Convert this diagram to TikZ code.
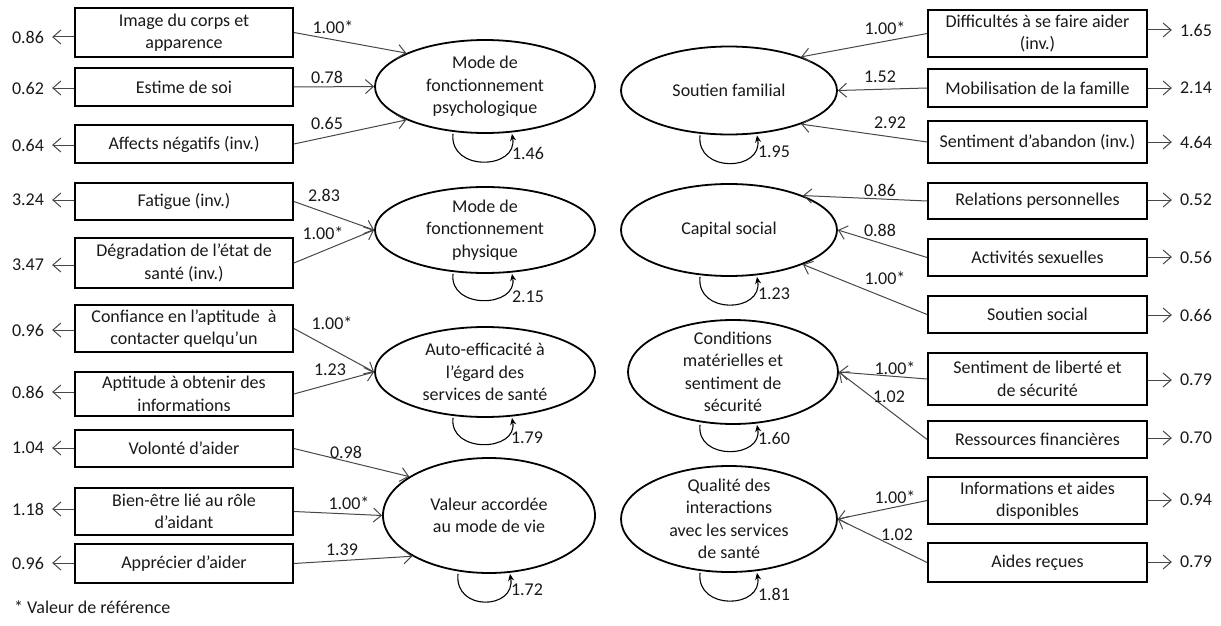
\documentclass[tikz,border=0pt]{standalone}
\usepackage{fontspec}
\setmainfont{Carlito}
\usetikzlibrary{shapes.geometric,arrows.meta,calc}
\begin{document}
\begin{tikzpicture}[x=1pt,y=-1pt,
  font=\fontsize{18}{22.5}\selectfont,
  obs/.style={draw=black,line width=1.8pt,minimum width=218pt,inner sep=1pt,align=center,text=black!90},
  lat/.style={draw=black,line width=1.8pt,ellipse,inner sep=0pt},
  lattxt/.style={align=center,text=black!90,inner sep=0pt},
  load/.style={draw=black!72,line width=1pt,-{Straight Barb[length=8pt,width=14pt]}},
  vararr/.style={draw=black!72,line width=1pt,-{Straight Barb[length=8pt,width=14pt]}},
  var/.style={text=black!90,inner xsep=8pt,inner ysep=1pt},
  num/.style={text=black!90,inner sep=0pt},
  selfl/.style={draw=black,line width=1.1pt,-{Stealth[length=7pt,width=6pt]}}
]
\useasboundingbox (0,0) rectangle (1221,626);

% ---------- left observed boxes ----------
\node[obs,minimum height=49pt] (L1) at (184,32.5) {Image du corps et\\apparence};
\node[obs,minimum height=38pt] (L2) at (184,87) {Estime de soi};
\node[obs,minimum height=38pt] (L3) at (184,144) {Affects négatifs (inv.)};
\node[obs,minimum height=37pt] (L4) at (184,201.5) {Fatigue (inv.)};
\node[obs,minimum height=50pt] (L5) at (184,263) {Dégradation de l’état de\\santé (inv.)};
\node[obs,minimum height=47pt] (L6) at (184,328.5) {Confiance en l’aptitude \ à\\contacter quelqu’un};
\node[obs,minimum height=44pt] (L7) at (184,394) {Aptitude à obtenir des\\informations};
\node[obs,minimum height=37pt] (L8) at (184,448.5) {Volonté d’aider};
\node[obs,minimum height=47pt] (L9) at (184,511.5) {Bien-être lié au rôle\\d’aidant};
\node[obs,minimum height=39pt] (L10) at (184,563.5) {Apprécier d’aider};

% ---------- right observed boxes ----------
\node[obs,minimum width=219pt,minimum height=47pt] (R1) at (1037.5,33.5) {Difficultés à se faire aider\\(inv.)};
\node[obs,minimum width=219pt,minimum height=38pt] (R2) at (1037.5,88) {Mobilisation de la famille};
\node[obs,minimum width=219pt,minimum height=42pt] (R3) at (1037.5,142) {Sentiment d’abandon (inv.)};
\node[obs,minimum width=219pt,minimum height=36pt] (R4) at (1037.5,201) {Relations personnelles};
\node[obs,minimum width=219pt,minimum height=37pt] (R5) at (1037.5,257.5) {Activités sexuelles};
\node[obs,minimum width=219pt,minimum height=37pt] (R6) at (1037.5,314.5) {Soutien social};
\node[obs,minimum width=219pt,minimum height=52pt] (R7) at (1037.5,379) {Sentiment de liberté et\\de sécurité};
\node[obs,minimum width=219pt,minimum height=37pt] (R8) at (1037.5,439.5) {Ressources financières};
\node[obs,minimum width=219pt,minimum height=47pt] (R9) at (1037.5,500.5) {Informations et aides\\disponibles};
\node[obs,minimum width=219pt,minimum height=39pt] (R10) at (1037.5,562.5) {Aides reçues};

% ---------- latent ellipses ----------
\node[lat,minimum width=220pt,minimum height=93pt,label={[lattxt]center:Mode de\\fonctionnement\\psychologique}] (E1) at (485,86.5) {};
\node[lat,minimum width=220pt,minimum height=86pt,label={[lattxt]center:Mode de\\fonctionnement\\physique}] (E2) at (485,230) {};
\node[lat,minimum width=220pt,minimum height=90pt,label={[lattxt]center:Auto-efficacité à\\l’égard des\\services de santé}] (E3) at (485,372) {};
\node[lat,minimum width=212pt,minimum height=115pt,label={[lattxt]center:Valeur accordée\\au mode de vie}] (E4) at (489,515.5) {};
\node[lat,minimum width=216pt,minimum height=88pt,label={[lattxt]center:Soutien familial}] (E5) at (729,90.5) {};
\node[lat,minimum width=216pt,minimum height=92pt,label={[lattxt]center:Capital social}] (E6) at (729,230) {};
\node[lat,minimum width=210pt,minimum height=104pt,label={[lattxt]center:Conditions\\matérielles et\\sentiment de\\sécurité}] (E7) at (733,372) {};
\node[lat,minimum width=216pt,minimum height=106pt,label={[lattxt]center:Qualité des\\interactions\\avec les services\\de santé}] (E8) at (729,519) {};

% ---------- loadings left ----------
\draw[load] (L1.east) -- (E1.157);
\draw[load] (L2.east) -- (E1.west);
\draw[load] (L3.east) -- (E1.203);
\draw[load] (L4.east) -- (E2.west);
\draw[load] (L5.east) -- (E2.west);
\draw[load] (L6.east) -- (E3.west);
\draw[load] (L7.east) -- (E3.west);
\draw[load] (L8.east) -- (E4.154);
\draw[load] (L9.east) -- (E4.west);
\draw[load] (L10.east) -- (E4.208);

\node[num] at (333,27) {1.00*};
\node[num] at (327,77) {0.78};
\node[num] at (327,123) {0.65};
\node[num] at (324,195) {2.83};
\node[num] at (323,233) {1.00*};
\node[num] at (332,323) {1.00*};
\node[num] at (330,370) {1.23};
\node[num] at (346,452) {0.98};
\node[num] at (349,503) {1.00*};
\node[num] at (342,550) {1.39};

% ---------- loadings right ----------
\draw[load] (R1.west) -- (E5.25);
\draw[load] (R2.west) -- (E5.east);
\draw[load] (R3.west) -- (E5.335);
\draw[load] (R4.west) -- (E6.25);
\draw[load] (R5.west) -- (E6.east);
\draw[load] (R6.west) -- (E6.335);
\draw[load] (R7.west) -- (E7.east);
\draw[load] (R8.west) -- (E7.east);
\draw[load] (R9.west) -- (E8.east);
\draw[load] (R10.west) -- (E8.east);

\node[num] at (885,28) {1.00*};
\node[num] at (880,77) {1.52};
\node[num] at (890,123) {2.92};
\node[num] at (880,190) {0.86};
\node[num] at (880,230) {0.88};
\node[num] at (885,278) {1.00*};
\node[num] at (895,368) {1.00*};
\node[num] at (889,397) {1.02};
\node[num] at (895,497) {1.00*};
\node[num] at (897,535) {1.02};

% ---------- residual variances left ----------
\node[var] (v1) at (28,37) {0.86};
\node[var] (v2) at (28,88) {0.62};
\node[var] (v3) at (28,145) {0.64};
\node[var] (v4) at (28,200) {3.24};
\node[var] (v5) at (28,265) {3.47};
\node[var] (v6) at (28,330) {0.96};
\node[var] (v7) at (28,392) {0.86};
\node[var] (v8) at (28,448) {1.04};
\node[var] (v9) at (28,509) {1.18};
\node[var] (v10) at (28,563) {0.96};
\foreach \i in {1,...,10} {\draw[vararr] (L\i.west |- v\i) -- (v\i);}

% ---------- residual variances right ----------
\node[var] (w1) at (1196,30) {1.65};
\node[var] (w2) at (1196,88) {2.14};
\node[var] (w3) at (1196,142) {4.64};
\node[var] (w4) at (1196,200) {0.52};
\node[var] (w5) at (1196,257) {0.56};
\node[var] (w6) at (1196,315) {0.66};
\node[var] (w7) at (1196,380) {0.79};
\node[var] (w8) at (1196,438) {0.70};
\node[var] (w9) at (1196,500) {0.94};
\node[var] (w10) at (1196,562) {0.79};
\foreach \i in {1,...,10} {\draw[vararr] (R\i.east |- w\i) -- (w\i);}

% ---------- latent variances (self loops) ----------
\draw[selfl] ([xshift=-32pt]E1.south) .. controls +(-4,38) and +(6,36) .. ([xshift=27pt]E1.south);
\draw[selfl] ([xshift=-32pt]E2.south) .. controls +(-4,36) and +(6,34) .. ([xshift=27pt]E2.south);
\draw[selfl] ([xshift=-32pt]E3.south) .. controls +(-4,36) and +(6,34) .. ([xshift=27pt]E3.south);
\draw[selfl] ([xshift=-31pt]E4.south) .. controls +(-4,38) and +(6,36) .. ([xshift=21pt]E4.south);
\draw[selfl] ([xshift=-29pt]E5.south) .. controls +(-4,38) and +(6,36) .. ([xshift=28pt]E5.south);
\draw[selfl] ([xshift=-29pt]E6.south) .. controls +(-4,38) and +(6,36) .. ([xshift=28pt]E6.south);
\draw[selfl] ([xshift=-33pt]E7.south) .. controls +(-4,36) and +(6,34) .. ([xshift=24pt]E7.south);
\draw[selfl] ([xshift=-29pt]E8.south) .. controls +(-4,38) and +(6,36) .. ([xshift=28pt]E8.south);

\node[num] at (528,153) {1.46};
\node[num] at (528,297) {2.15};
\node[num] at (527,438) {1.79};
\node[num] at (527,590) {1.72};
\node[num] at (774,152) {1.95};
\node[num] at (774,294) {1.23};
\node[num] at (774,438) {1.60};
\node[num] at (774,594) {1.81};

% ---------- footnote ----------
\node[num,anchor=west] (fn) at (14,607) {* Valeur de référence};
\end{tikzpicture}
\end{document}
